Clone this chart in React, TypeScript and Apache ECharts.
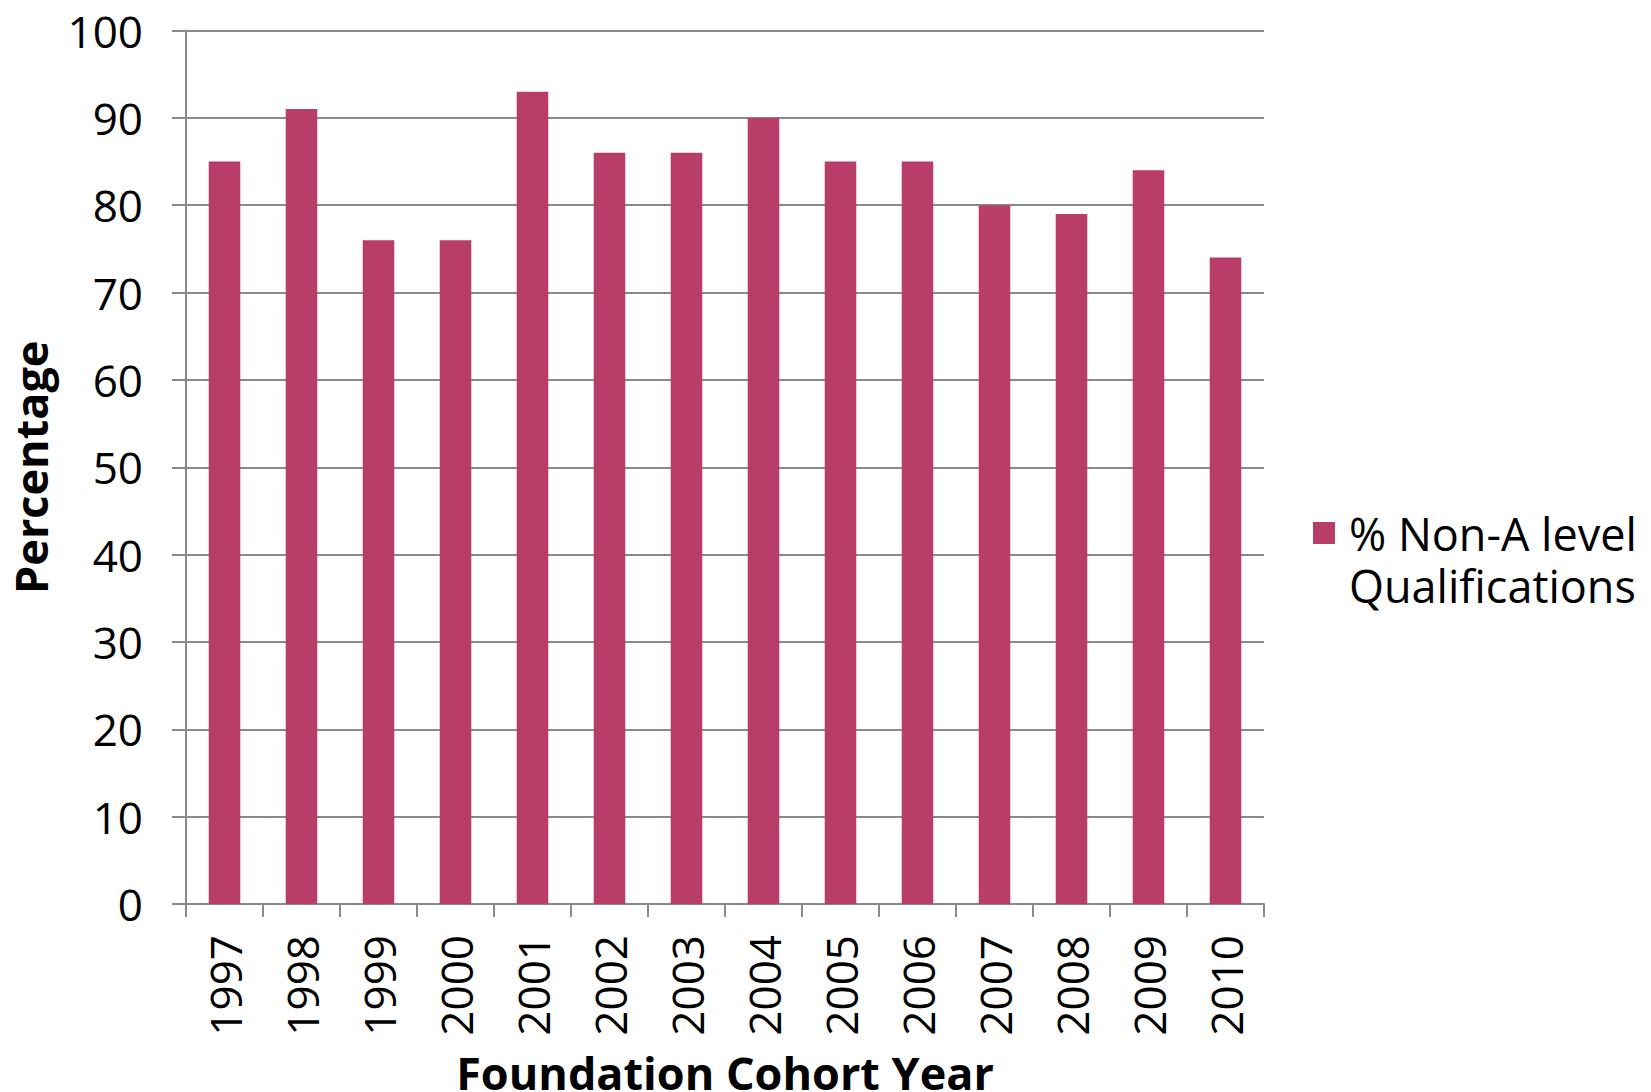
import React, { useEffect, useRef } from "react";
import * as echarts from "echarts";

const categories = ["1997", "1998", "1999", "2000", "2001", "2002", "2003", "2004", "2005", "2006", "2007", "2008", "2009", "2010"];
const nonALevel = [85, 91, 76, 76, 93, 86, 86, 90, 85, 85, 80, 79, 84, 74];
const seriesName = "% Non-A level Qualifications";

const FONT = "'Open Sans', 'Noto Sans', sans-serif";

export default function App() {
  const ref = useRef<HTMLDivElement>(null);
  useEffect(() => {
    if (!ref.current) return;
    const chart = echarts.init(ref.current, null, { renderer: "svg" });
    chart.setOption({
      animation: false,
      backgroundColor: "#ffffff",
      textStyle: { fontFamily: FONT },
      grid: {
        left: 186,
        right: 387,
        top: 30.5,
        bottom: 188,
        containLabel: false,
        outerBoundsMode: "none",
      },
      legend: {
        show: true,
        left: 1313,
        top: 507,
        padding: 0,
        orient: "vertical",
        data: [seriesName],
        icon: "path://M0,0H10V10H0Z M0,33.6H0.01V33.61H0Z",
        itemWidth: 22,
        itemHeight: 74,
        formatter: () => "% Non-A level\nQualifications",
        textStyle: { fontSize: 45, color: "#000", fontFamily: FONT, lineHeight: 52, padding: [0, 0, 0, 9] },
      },
      xAxis: {
        type: "category",
        data: categories,
        name: "Foundation Cohort Year",
        nameLocation: "middle",
        nameGap: 146,
        nameTextStyle: { fontSize: 45, fontWeight: "bold", color: "#000", fontFamily: FONT },
        axisLine: { show: true, lineStyle: { color: "#8a8a8a", width: 2 } },
        axisTick: { show: true, length: 13, lineStyle: { color: "#8a8a8a", width: 2 } },
        axisLabel: { rotate: 90, margin: 31, fontSize: 44, color: "#000", fontFamily: FONT },
      },
      yAxis: {
        type: "value",
        min: 0,
        max: 100,
        interval: 10,
        name: "Percentage",
        nameLocation: "middle",
        nameGap: 133,
        nameTextStyle: { fontSize: 45, fontWeight: "bold", color: "#000", fontFamily: FONT },
        axisLine: { show: true, lineStyle: { color: "#8a8a8a", width: 2 } },
        axisTick: { show: true, length: 14, lineStyle: { color: "#8a8a8a", width: 2 } },
        axisLabel: { margin: 43, fontSize: 44, color: "#000", fontFamily: FONT },
        splitLine: { show: true, lineStyle: { color: "#8a8a8a", width: 2 } },
      },
      series: [
        {
          name: seriesName,
          type: "bar",
          data: nonALevel,
          barCategoryGap: "59%",
          itemStyle: { color: "#B83D68" },
        },
      ],
    });
    return () => chart.dispose();
  }, []);
  return <div ref={ref} style={{ width: 1651, height: 1092, position: "absolute", left: 0, top: 0 }} />;
}
